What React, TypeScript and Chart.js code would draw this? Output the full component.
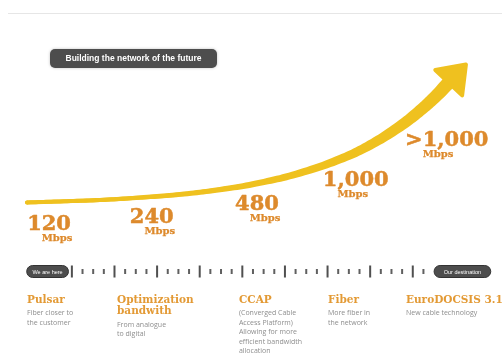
import React, { useEffect, useRef } from 'react';
import { Chart, registerables } from 'chart.js';

Chart.register(...registerables);

// Growth curve (x: timeline position, y: relative growth index)
const CURVE_X = [-0.053, 0.721, 1.66, 2.599, 3.538, 4.476, 5.415, 6.354, 7.293, 7.997, 8.701, 9.17, 9.546, 9.827];
const CURVE_Y = [18.8, 19.3, 20, 21.2, 22.8, 25.2, 28.6, 33.5, 40.4, 47.5, 56.9, 64.7, 72, 78.3];

// Speed milestones
const SPEED_LABELS = ['120', '240', '480', '1,000', '>1,000'];
const SPEED_UNIT = 'Mbps';
const SPEED_X = [-0.05, 2.36, 4.83, 6.89, 8.82];
const SPEED_Y = [7.75, 11.25, 17.75, 29.75, 49.75];

// Timeline ruler
const TIMELINE_MAJORS = [1, 2, 3, 4, 5, 6, 7, 8, 9];
const TIMELINE_MINORS = [
  1.25, 1.5, 1.75, 2.25, 2.5, 2.75, 3.25, 3.5, 3.75, 4.25, 4.5, 4.75,
  5.25, 5.5, 5.75, 6.25, 6.5, 6.75, 7.25, 7.5, 7.75, 8.25, 8.5, 8.75, 9.25,
];
const TIMELINE_START = 'We are here';
const TIMELINE_END = 'Our destination';

// Steps below the ruler
const STEP_X = [-0.053, 2.059, 4.92, 7.01, 8.84];
const STEP_TITLES = [['Pulsar'], ['Optimization', 'bandwith'], ['CCAP'], ['Fiber'], ['EuroDOCSIS 3.1']];
const STEP_NOTES = [
  ['Fiber closer to', 'the customer'],
  ['From analogue', 'to digital'],
  ['(Converged Cable', 'Access Platform)', 'Allowing for more', 'efficient bandwidth', 'allocation'],
  ['More fiber in', 'the network'],
  ['New cable technology'],
];

const TITLE = 'Building the network of the future';

const YELLOW = '#EFC11F';
const ORANGE = '#DD8A2C';
const TITLE_ORANGE = '#E39A35';
const DARK = '#4d4d4d';
const NOTE_GRAY = '#8e8e8e';

const W_START = 4;
const W_END = 13.5;

function roundRect(ctx: CanvasRenderingContext2D, x: number, y: number, w: number, h: number, r: number) {
  ctx.beginPath();
  ctx.moveTo(x + r, y);
  ctx.lineTo(x + w - r, y);
  ctx.arcTo(x + w, y, x + w, y + r, r);
  ctx.lineTo(x + w, y + h - r);
  ctx.arcTo(x + w, y + h, x + w - r, y + h, r);
  ctx.lineTo(x + r, y + h);
  ctx.arcTo(x, y + h, x, y + h - r, r);
  ctx.lineTo(x, y + r);
  ctx.arcTo(x, y, x + r, y, r);
  ctx.closePath();
}

function bez(a: number, b: number, c: number, d: number, t: number) {
  const u = 1 - t;
  return u * u * u * a + 3 * u * u * t * b + 3 * u * t * t * c + t * t * t * d;
}

const infographicPlugin = {
  id: 'infographic',
  beforeDatasetsDraw(chart: any) {
    const ctx: CanvasRenderingContext2D = chart.ctx;
    const xs = chart.scales.x;
    ctx.save();
    // top rule
    ctx.strokeStyle = '#e6e6e6';
    ctx.lineWidth = 1;
    ctx.beginPath();
    ctx.moveTo(8, 13.5);
    ctx.lineTo(502, 13.5);
    ctx.stroke();

    // title pill
    ctx.shadowColor = 'rgba(0,0,0,0.25)';
    ctx.shadowBlur = 3;
    roundRect(ctx, 50, 49, 167, 19, 5);
    ctx.fillStyle = DARK;
    ctx.fill();
    ctx.shadowBlur = 0;
    ctx.shadowColor = 'transparent';
    ctx.fillStyle = '#ffffff';
    ctx.font = "bold 8.5px 'Liberation Sans', Arial, sans-serif";
    ctx.textAlign = 'center';
    ctx.textBaseline = 'middle';
    ctx.fillText(TITLE, 133.5, 59, 154);

    // timeline ruler
    const cy = 271.5;
    ctx.fillStyle = '#505050';
    TIMELINE_MAJORS.forEach((v) => {
      const px = xs.getPixelForValue(v);
      ctx.fillRect(px - 1, cy - 6, 2, 12);
    });
    ctx.fillStyle = '#606060';
    TIMELINE_MINORS.forEach((v) => {
      const px = xs.getPixelForValue(v);
      ctx.fillRect(px - 1, cy - 2.5, 2, 5);
    });
    const pill = (x0: number, x1: number, text: string) => {
      roundRect(ctx, x0, cy - 6, x1 - x0, 12, 6);
      ctx.fillStyle = DARK;
      ctx.fill();
      ctx.strokeStyle = '#333';
      ctx.lineWidth = 1;
      ctx.stroke();
      ctx.fillStyle = '#fff';
      ctx.font = "5.5px 'Liberation Sans', Arial, sans-serif";
      ctx.textAlign = 'center';
      ctx.textBaseline = 'middle';
      ctx.fillText(text, (x0 + x1) / 2, cy + 0.5);
    };
    pill(xs.getPixelForValue(-0.06), xs.getPixelForValue(0.92), TIMELINE_START);
    pill(xs.getPixelForValue(9.5), xs.getPixelForValue(10.83), TIMELINE_END);

    // steps
    STEP_X.forEach((v, i) => {
      const px = xs.getPixelForValue(v);
      let y = 300;
      ctx.textAlign = 'left';
      ctx.textBaseline = 'middle';
      ctx.fillStyle = TITLE_ORANGE;
      ctx.font = "bold 10.5px 'DejaVu Serif', serif";
      STEP_TITLES[i].forEach((t, j) => {
        if (j > 0) y += 11.5;
        ctx.fillText(t, px, y);
      });
      y += 13;
      ctx.fillStyle = NOTE_GRAY;
      ctx.font = "7px 'Open Sans', sans-serif";
      STEP_NOTES[i].forEach((t, j) => {
        ctx.fillText(t, px, y + j * 9.6);
      });
    });
    ctx.restore();
  },
  afterDatasetsDraw(chart: any) {
    const ctx: CanvasRenderingContext2D = chart.ctx;
    ctx.save();
    const meta = chart.getDatasetMeta(0);
    const pts = meta.data;
    const n = pts.length;

    // tapered band following the library's curve
    const samples: { x: number; y: number }[] = [];
    const S = 12;
    for (let i = 0; i < n - 1; i++) {
      const a = pts[i], b = pts[i + 1];
      const c1x = a.cp2x ?? a.x, c1y = a.cp2y ?? a.y;
      const c2x = b.cp1x ?? b.x, c2y = b.cp1y ?? b.y;
      for (let s = 0; s < S; s++) {
        const t = s / S;
        samples.push({ x: bez(a.x, c1x, c2x, b.x, t), y: bez(a.y, c1y, c2y, b.y, t) });
      }
    }
    samples.push({ x: pts[n - 1].x, y: pts[n - 1].y });
    const lens = [0];
    for (let i = 1; i < samples.length; i++) {
      lens.push(lens[i - 1] + Math.hypot(samples[i].x - samples[i - 1].x, samples[i].y - samples[i - 1].y));
    }
    const total = lens[lens.length - 1];
    const left: number[][] = [];
    const right: number[][] = [];
    samples.forEach((p, i) => {
      const pa = samples[Math.max(0, i - 1)];
      const pb = samples[Math.min(samples.length - 1, i + 1)];
      let dx = pb.x - pa.x, dy = pb.y - pa.y;
      const l = Math.hypot(dx, dy) || 1;
      dx /= l; dy /= l;
      const t = lens[i] / total;
      const w = (W_START + (W_END - W_START) * Math.pow(t, 2.2)) / 2;
      left.push([p.x - dy * w, p.y + dx * w]);
      right.push([p.x + dy * w, p.y - dx * w]);
    });
    ctx.fillStyle = YELLOW;
    ctx.beginPath();
    ctx.moveTo(left[0][0], left[0][1]);
    left.forEach((q) => ctx.lineTo(q[0], q[1]));
    for (let i = right.length - 1; i >= 0; i--) ctx.lineTo(right[i][0], right[i][1]);
    ctx.closePath();
    ctx.fill();
    ctx.beginPath();
    ctx.arc(samples[0].x, samples[0].y, W_START / 2, 0, Math.PI * 2);
    ctx.fill();

    // arrow head at end of curve
    const last = pts[n - 1];
    const ex = last.x, ey = last.y;
    let dx = ex - (last.cp1x ?? pts[n - 2].x);
    let dy = ey - (last.cp1y ?? pts[n - 2].y);
    const len = Math.hypot(dx, dy) || 1;
    dx /= len; dy /= len;
    const nx = -dy, ny = dx;
    const bx = ex + dx * 1, by = ey + dy * 1;
    const L = 25, H = 18.5;
    ctx.beginPath();
    ctx.moveTo(bx + dx * L, by + dy * L);
    ctx.lineTo(bx + nx * H, by + ny * H);
    ctx.lineTo(bx - nx * H, by - ny * H);
    ctx.closePath();
    ctx.strokeStyle = YELLOW;
    ctx.lineJoin = 'round';
    ctx.lineWidth = 4;
    ctx.fill();
    ctx.stroke();

    // speed labels
    const sm = chart.getDatasetMeta(1);
    sm.data.forEach((p: any, i: number) => {
      const label = SPEED_LABELS[i];
      ctx.fillStyle = ORANGE;
      ctx.strokeStyle = ORANGE;
      ctx.lineJoin = 'round';
      ctx.textAlign = 'left';
      ctx.textBaseline = 'middle';
      ctx.font = "bold 21px 'DejaVu Serif', serif";
      ctx.lineWidth = 0.5;
      ctx.fillText(label, p.x, p.y);
      ctx.strokeText(label, p.x, p.y);
      const off = ctx.measureText(label.charAt(0)).width;
      ctx.font = "bold 10px 'DejaVu Serif', serif";
      ctx.lineWidth = 0.25;
      ctx.fillText(SPEED_UNIT, p.x + off, p.y + 14);
      ctx.strokeText(SPEED_UNIT, p.x + off, p.y + 14);
    });
    ctx.restore();
  },
};

export default function App() {
  const ref = useRef<HTMLCanvasElement | null>(null);
  useEffect(() => {
    if (!ref.current) return;
    const chart = new Chart(ref.current, {
      type: 'line',
      data: {
        datasets: [
          {
            data: CURVE_X.map((x, i) => ({ x, y: CURVE_Y[i] })),
            borderColor: YELLOW,
            borderWidth: W_START,
            borderCapStyle: 'round',
            borderJoinStyle: 'round',
            pointRadius: 0,
            tension: 0.4,
            clip: false,
          } as any,
          {
            data: SPEED_X.map((x, i) => ({ x, y: SPEED_Y[i] })),
            showLine: false,
            pointRadius: 0,
            clip: false,
          } as any,
        ],
      },
      options: {
        responsive: false,
        animation: false,
        events: [],
        layout: { padding: { left: 25, right: 4, top: 40, bottom: 118 } },
        scales: {
          x: { type: 'linear', min: -0.1, max: 11, display: false },
          y: { type: 'linear', min: 0, max: 100, display: false },
        },
        plugins: { legend: { display: false }, tooltip: { enabled: false } },
      },
      plugins: [infographicPlugin],
    });
    return () => chart.destroy();
  }, []);
  return (
    <div style={{ position: 'absolute', left: 0, top: 0, width: 502, height: 358, background: '#fff' }}>
      <canvas ref={ref} width={502} height={358} style={{ display: 'block' }} />
    </div>
  );
}
